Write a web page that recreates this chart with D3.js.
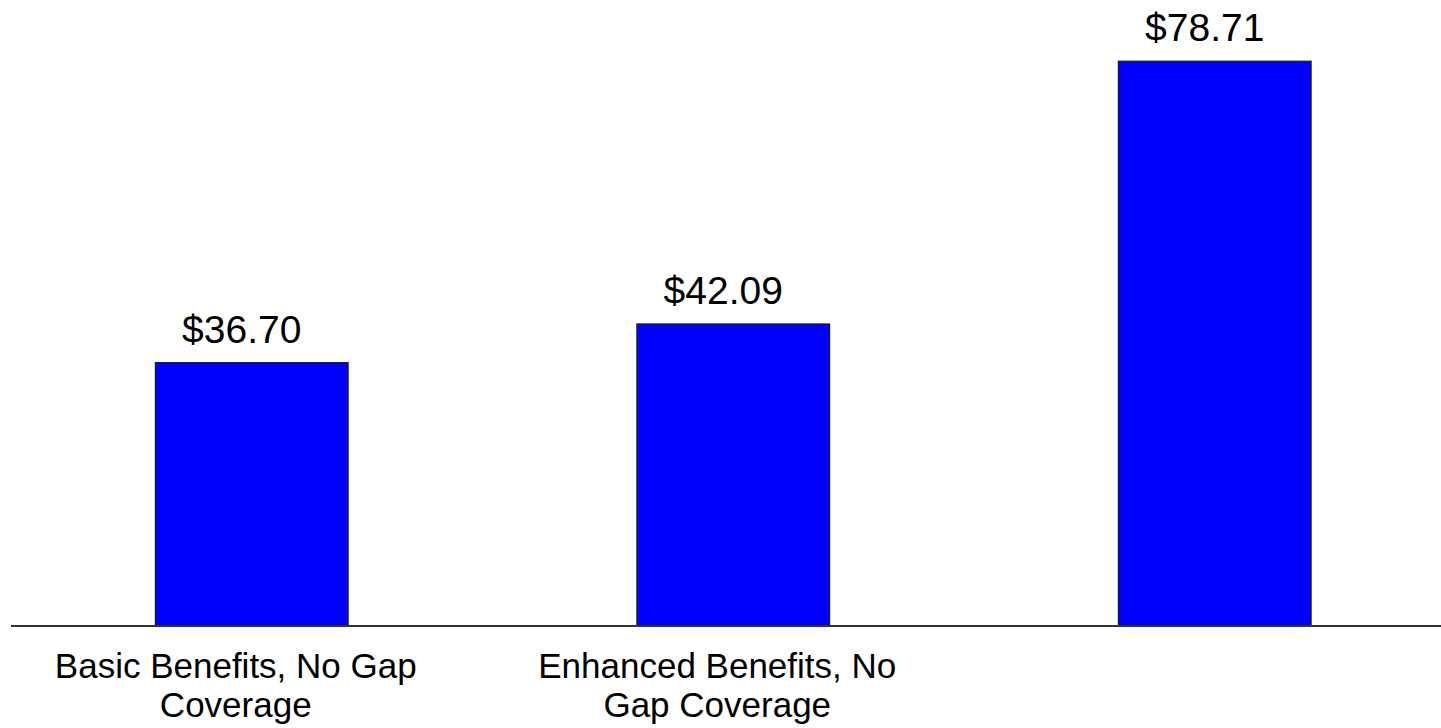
<!DOCTYPE html>
<html><head><meta charset="utf-8">
<script src="https://cdn.jsdelivr.net/npm/d3@7"></script>
<style>body{margin:0;background:#fff}svg{display:block}</style>
</head><body>
<svg id="c" width="1441" height="728"></svg>
<script>
const categories = ["Basic Benefits, No Gap Coverage", "Enhanced Benefits, No Gap Coverage", ""];
const categoryLines = [["Basic Benefits, No Gap", "Coverage"], ["Enhanced Benefits, No", "Gap Coverage"], []];
const values = [36.70, 42.09, 78.71];
const valueLabels = ["$36.70", "$42.09", "$78.71"];

const svg = d3.select("#c");
const font = "'Liberation Sans', Arial, sans-serif";
const x = d3.scaleBand().domain(categories).range([11, 1455.5]).paddingInner(0.6).paddingOuter(0.3);
const y = d3.scaleLinear().domain([0, 87.25]).range([626, 0]);

svg.selectAll("rect.bar").data(values).join("rect")
  .attr("class", "bar")
  .attr("x", (d, i) => x(categories[i]))
  .attr("width", x.bandwidth())
  .attr("y", d => y(d))
  .attr("height", d => y(0) - y(d))
  .attr("fill", "#0000ff")
  .attr("stroke", "#1a1a1a")
  .attr("stroke-width", 1.3);

svg.selectAll("text.val").data(values).join("text")
  .attr("class", "val")
  .attr("x", (d, i) => x(categories[i]) + x.bandwidth() / 2 - 10)
  .attr("y", d => y(d) - 20)
  .attr("text-anchor", "middle")
  .attr("font-family", font)
  .attr("font-size", 39)
  .attr("fill", "#000")
  .text((d, i) => valueLabels[i]);

svg.append("line")
  .attr("x1", 11).attr("x2", 1441)
  .attr("y1", y(0)).attr("y2", y(0))
  .attr("stroke", "#333").attr("stroke-width", 2);

categories.forEach((c, i) => {
  const cx = x(c) + x.bandwidth() / 2 - 16;
  const t = svg.append("text")
    .attr("x", cx)
    .attr("y", 678)
    .attr("text-anchor", "middle")
    .attr("font-family", font)
    .attr("font-size", 35)
    .attr("fill", "#000");
  categoryLines[i].forEach((line, j) => {
    t.append("tspan").attr("x", cx).attr("dy", j === 0 ? 0 : 39).text(line);
  });
});
</script>
</body></html>
